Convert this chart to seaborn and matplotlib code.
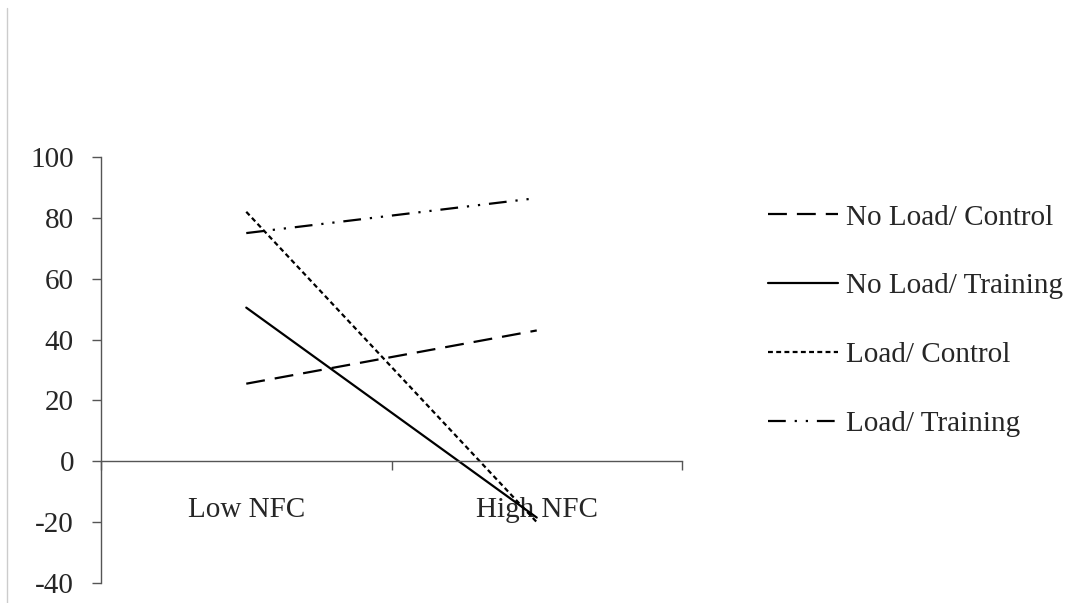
import pandas as pd
import matplotlib.pyplot as plt
import seaborn as sns

# values
nfc_levels = ['Low NFC', 'High NFC']
no_load_control = [25.5, 43.0]
no_load_training = [50.5, -18.5]
load_control = [82.0, -20.0]
load_training = [75.0, 86.5]
groups = ['No Load/ Control', 'No Load/ Training', 'Load/ Control', 'Load/ Training']
y_ticks = [-40, -20, 0, 20, 40, 60, 80, 100]

rows = []
for g, vals in zip(groups, [no_load_control, no_load_training, load_control, load_training]):
    for lvl, v in zip(nfc_levels, vals):
        rows.append({'NFC': lvl, 'value': v, 'group': g})
df = pd.DataFrame(rows)

sns.set_style('white')
plt.rcParams['font.family'] = ['Liberation Serif', 'DejaVu Serif']
plt.rcParams['axes.unicode_minus'] = False

dash_map = {
    'No Load/ Control': (8.5, 4.5),
    'No Load/ Training': '',
    'Load/ Control': (2.2, 1.5),
    'Load/ Training': (8, 4, 1, 4, 1, 4),
}
lw = 1.6
fs = 21

fig = plt.figure(figsize=(10.91, 6.03), dpi=100)
ax = fig.add_axes([0.0926, 0.0332, 0.5325, 0.7064])

sns.lineplot(data=df, x='NFC', y='value', hue='group', style='group',
             palette=['black'] * 4, dashes=dash_map, hue_order=groups,
             style_order=groups, ax=ax, legend=False, sort=False, linewidth=lw)

ax.set_xlim(-0.5, 1.5)
ax.set_ylim(-40, 100)
ax.set_yticks(y_ticks)
ax.set_xticks([0, 1])
ax.set_xticks([-0.5, 0.5, 1.5], minor=True)
ax.set_xticklabels(nfc_levels)
ax.set_xlabel('')
ax.set_ylabel('')

for s in ['top', 'right']:
    ax.spines[s].set_visible(False)
ax.spines['bottom'].set_position(('data', 0))
for s in ['left', 'bottom']:
    ax.spines[s].set_color('#555555')
    ax.spines[s].set_linewidth(1.0)

ax.tick_params(axis='x', which='major', length=0, pad=26, labelsize=fs)
ax.tick_params(axis='x', which='minor', length=6.5, width=1, color='#555555', direction='out', bottom=True)
ax.tick_params(axis='y', length=6.5, width=1, color='#555555', direction='out', pad=13, labelsize=fs, left=True)

# legend
handles = []
for g in groups:
    h, = ax.plot([], [], color='black', lw=lw)
    if dash_map[g]:
        h.set_dashes(dash_map[g])
    handles.append(h)
ax.legend(handles, groups, loc='center left', bbox_to_anchor=(0.704, 0.4685),
          bbox_transform=fig.transFigure, frameon=False, fontsize=fs,
          handlelength=2.4, handletextpad=0.28, labelspacing=1.45,
          borderpad=0, borderaxespad=0)

# faint frame edge on the left
fig.add_artist(plt.Line2D([0.0065, 0.0065], [0.0, 0.987], color='#cccccc', lw=1))

fig.savefig('out.png', dpi=100)
